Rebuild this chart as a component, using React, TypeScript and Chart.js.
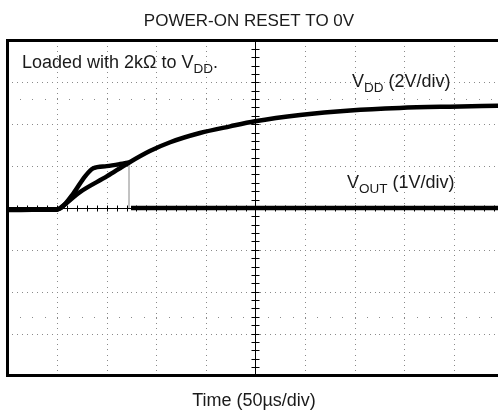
import React, { useEffect, useRef } from "react";
import { Chart, registerables } from "chart.js";

Chart.register(...registerables);

// Axis ranges in scope divisions
const X_MIN = 0;
const X_MAX = 9.89;
const Y_MIN = -4;
const Y_MAX = 4;

// VDD trace (2V/div), positions in divisions
const vddX = [0, 0.5, 1.0, 1.06, 1.46, 2.01, 2.43, 2.87, 3.28, 3.88, 4.49, 4.99, 5.9, 6.91, 7.91, 8.92, 9.89];
const vddY = [-0.05, -0.04, -0.04, 0.0, 0.38, 0.76, 1.07, 1.36, 1.57, 1.79, 1.95, 2.07, 2.22, 2.33, 2.39, 2.42, 2.44];

// VOUT trace (1V/div) during power-up, before reset
const voutRiseX = [0, 0.5, 1.0, 1.08, 1.33, 1.56, 1.73, 2.0, 2.27, 2.45];
const voutRiseY = [-0.03, -0.03, -0.03, 0.0, 0.35, 0.75, 0.95, 1.0, 1.05, 1.09];

// VOUT reset edge
const voutEdgeX = [2.45, 2.45];
const voutEdgeY = [1.09, 0.0];

// VOUT held low after reset
const voutLowX = [2.49, 4.0, 6.0, 8.0, 9.89];
const voutLowY = [0.0, 0.0, 0.0, 0.0, 0.0];

const TITLE = "POWER-ON RESET TO 0V";
const X_LABEL = "Time (50\u00b5s/div)";
const FONT = '"Liberation Sans", Arial, sans-serif';

const pts = (xs: number[], ys: number[]) => xs.map((x, i) => ({ x, y: ys[i] }));

const gridPlugin = {
  id: "scopeGrid",
  beforeDatasetsDraw(chart: any) {
    const { ctx, chartArea, scales } = chart;
    const xs = scales.x;
    const ys = scales.y;
    ctx.save();
    ctx.fillStyle = "#8a8a8a";
    // vertical dotted lines
    for (let d = 1; d <= 9; d++) {
      if (d === 5) continue;
      const px = Math.round(xs.getPixelForValue(d));
      for (let v = Y_MIN; v <= Y_MAX + 1e-6; v += 0.125) {
        const py = Math.round(ys.getPixelForValue(v));
        ctx.fillRect(px, py, 1, 1);
      }
    }
    // horizontal dotted lines
    for (const d of [-3, -2, -1, 1, 2, 3]) {
      const py = Math.round(ys.getPixelForValue(d));
      for (let v = X_MIN; v <= X_MAX + 1e-6; v += 0.1) {
        const px = Math.round(xs.getPixelForValue(v));
        ctx.fillRect(px, py, 1, 1);
      }
    }
    // sparse marker lines
    for (const d of [2.6, -2.6]) {
      const py = Math.round(ys.getPixelForValue(d));
      for (let v = 0.25; v <= X_MAX + 1e-6; v += 0.25) {
        const px = Math.round(xs.getPixelForValue(v));
        ctx.fillRect(px, py, 1, 1);
      }
    }
    // centre axes with minor ticks
    ctx.strokeStyle = "#000";
    ctx.lineWidth = 1;
    const cx = Math.round(xs.getPixelForValue(5)) + 0.5;
    const cy = Math.round(ys.getPixelForValue(0)) + 0.5;
    ctx.beginPath();
    ctx.moveTo(cx, chartArea.top);
    ctx.lineTo(cx, chartArea.bottom);
    ctx.moveTo(chartArea.left, cy);
    ctx.lineTo(chartArea.right, cy);
    for (let v = Y_MIN + 0.2; v < Y_MAX - 1e-6; v += 0.2) {
      const py = Math.round(ys.getPixelForValue(v)) + 0.5;
      ctx.moveTo(cx - 4, py);
      ctx.lineTo(cx + 4, py);
    }
    for (let v = X_MIN + 0.2; v < X_MAX; v += 0.2) {
      const px = Math.round(xs.getPixelForValue(v)) + 0.5;
      ctx.moveTo(px, cy - 3);
      ctx.lineTo(px, cy + 3);
    }
    ctx.stroke();
    ctx.restore();
  },
  afterDraw(chart: any) {
    const { ctx, chartArea } = chart;
    ctx.save();
    // frame (left, top, bottom)
    ctx.strokeStyle = "#000";
    ctx.lineWidth = 3;
    ctx.beginPath();
    ctx.moveTo(chart.width + 2, chartArea.top);
    ctx.lineTo(chartArea.left, chartArea.top);
    ctx.lineTo(chartArea.left, chartArea.bottom);
    ctx.lineTo(chart.width + 2, chartArea.bottom);
    ctx.stroke();

    ctx.fillStyle = "#1a1a1a";
    ctx.textBaseline = "alphabetic";
    ctx.font = `17px ${FONT}`;
    ctx.textAlign = "center";
    ctx.fillText(TITLE, 249, 26);
    ctx.font = `18px ${FONT}`;
    ctx.fillText(X_LABEL, 254, 406);

    ctx.textAlign = "left";
    const sub = (parts: [string, boolean][], x: number, y: number) => {
      let cx = x;
      for (const [t, isSub] of parts) {
        ctx.font = isSub ? `13.5px ${FONT}` : `18px ${FONT}`;
        ctx.fillText(t, cx, isSub ? y + 5 : y);
        cx += ctx.measureText(t).width;
      }
    };
    sub([["Loaded with 2k\u03a9 to V", false], ["DD", true], [".", false]], 22, 68);
    sub([["V", false], ["DD", true], [" (2V/div)", false]], 352, 87);
    sub([["V", false], ["OUT", true], [" (1V/div)", false]], 347, 188);
    ctx.restore();
  },
};

export default function App() {
  const ref = useRef<HTMLCanvasElement | null>(null);
  useEffect(() => {
    if (!ref.current) return;
    const trace = (data: any, color: string, width: number) => ({
      data,
      borderColor: color,
      backgroundColor: color,
      borderWidth: width,
      pointRadius: 0,
      cubicInterpolationMode: "monotone" as const,
      fill: false,
    });
    const chart = new Chart(ref.current, {
      type: "line",
      data: {
        datasets: [
          { label: "VDD (2V/div)", ...trace(pts(vddX, vddY), "#000", 4.5) },
          { label: "VOUT (1V/div)", ...trace(pts(voutRiseX, voutRiseY), "#000", 4.5) },
          { label: "VOUT reset", ...trace(pts(voutEdgeX, voutEdgeY), "#9a9a9a", 1.2) },
          { label: "VOUT low", ...trace(pts(voutLowX, voutLowY), "#000", 4.5) },
        ],
      },
      options: {
        animation: false,
        responsive: false,
        maintainAspectRatio: false,
        layout: { padding: { left: 7.5, right: 0, top: 40.5, bottom: 38.5 } },
        plugins: { legend: { display: false }, tooltip: { enabled: false }, title: { display: false } },
        scales: {
          x: { type: "linear", min: X_MIN, max: X_MAX, display: false },
          y: { type: "linear", min: Y_MIN, max: Y_MAX, display: false },
        },
      },
      plugins: [gridPlugin],
    });
    return () => chart.destroy();
  }, []);
  return (
    <div style={{ position: "fixed", left: 0, top: 0, width: 498, height: 414, background: "#fff", overflow: "hidden" }}>
      <canvas ref={ref} width={498} height={414} style={{ display: "block" }} />
    </div>
  );
}
